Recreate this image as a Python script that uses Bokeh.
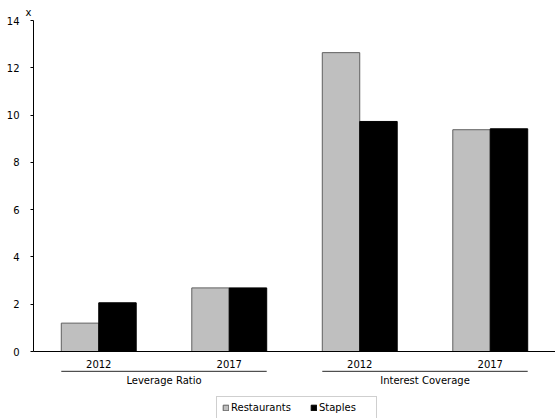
from bokeh.plotting import figure
from bokeh.layouts import column
from bokeh.models import (FactorRange, Range1d, ColumnDataSource, Legend, LegendItem,
                          FixedTicker)
from bokeh.core.properties import value
from bokeh.transform import dodge
from bokeh.embed import file_html
from bokeh.resources import INLINE

group_names = ["Leverage Ratio", "Interest Coverage"]
groups = ["Leverage Ratio", "Leverage Ratio", "Interest Coverage", "Interest Coverage"]
years = ["2012", "2017", "2012", "2017"]
restaurants = [1.20, 2.69, 12.64, 9.38]
staples = [2.06, 2.69, 9.73, 9.42]
series_names = ["Restaurants", "Staples"]
y_ticks = [0, 2, 4, 6, 8, 10, 12, 14]

FONT = "DejaVu Sans"
FS = "10px"
factors = list(zip(groups, years))
xr = FactorRange(*factors, factor_padding=0, group_padding=0, range_padding=0)
src = ColumnDataSource(dict(x=factors, r=restaurants, s=staples))

# ---------------- main chart ----------------
p = figure(width=555, height=370, output_backend="svg", toolbar_location=None,
           x_range=xr, y_range=Range1d(0, 14),
           min_border_left=33, min_border_right=0, min_border_top=20, min_border_bottom=19)
p.outline_line_color = None
p.xgrid.grid_line_color = None
p.ygrid.grid_line_color = None
p.title.text = "x"
p.title.align = "left"
p.title.offset = -8
p.title.standoff = 6
p.title.text_font = FONT
p.title.text_font_size = FS
p.title.text_font_style = "normal"
p.title.text_color = "black"

bw = 0.287
r_style = dict(fill_color="#BFBFBF", line_color="#5F5F5F", line_width=1)
s_style = dict(fill_color="#000000", line_color="#000000", line_width=1)
p.vbar(x=dodge("x", -bw / 2, range=xr), top="r", width=bw, source=src, **r_style)
p.vbar(x=dodge("x", bw / 2, range=xr), top="s", width=bw, source=src, **s_style)

p.yaxis.ticker = FixedTicker(ticks=y_ticks)
p.yaxis.axis_line_color = "black"
p.yaxis.major_tick_out = 3
p.yaxis.major_tick_in = 0
p.yaxis.minor_tick_line_color = None
p.yaxis.major_label_standoff = 11
p.yaxis.major_label_text_font = FONT
p.yaxis.major_label_text_font_size = FS
p.yaxis.major_label_text_color = "black"

p.xaxis.axis_line_color = "black"
p.xaxis.major_tick_line_color = None
p.xaxis.major_tick_out = 0
p.xaxis.major_tick_in = 0
p.xaxis.major_label_text_font = FONT
p.xaxis.major_label_text_font_size = FS
p.xaxis.major_label_text_color = "black"
p.xaxis.major_label_standoff = 8
p.xaxis.group_text_font_size = "0px"
p.xaxis.group_text_alpha = 0
p.xaxis.separator_line_alpha = 0

# ---------------- group labels, underlines and legend ----------------
b = figure(width=555, height=48, output_backend="svg", toolbar_location=None,
           x_range=xr, y_range=Range1d(0, 48),
           min_border_left=33, min_border_right=0, min_border_top=0, min_border_bottom=0)
b.outline_line_color = None
b.xgrid.grid_line_color = None
b.ygrid.grid_line_color = None
b.xaxis.visible = False
b.yaxis.visible = False
b.extra_y_ranges = {"hidden": Range1d(1000, 1001)}

gsrc = ColumnDataSource(dict(first=factors[0::2], last=factors[1::2], name=group_names,
                             yl=[47.3] * 2, yt=[38] * 2))
b.segment(x0=dodge("first", -bw, range=xr), x1=dodge("last", bw, range=xr),
          y0="yl", y1="yl", source=gsrc, line_color="black", line_width=1)
b.text(x="name", y="yt", text="name", source=gsrc,
       text_align="center", text_baseline="middle", text_font_size=FS,
       text_color="black", text_font=value(FONT))

# legend proxies: same data and styles, mapped to an off-screen range
lr1 = b.vbar(x="x", top="r", width=bw, source=src, y_range_name="hidden", **r_style)
lr2 = b.vbar(x="x", top="s", width=bw, source=src, y_range_name="hidden", **s_style)
legend = Legend(items=[LegendItem(label=series_names[0], renderers=[lr1]),
                       LegendItem(label=series_names[1], renderers=[lr2])],
                orientation="horizontal", location=(183, -1),
                border_line_color="#A0A0A0", border_line_width=1,
                background_fill_color="white",
                padding=5, margin=0, spacing=19, glyph_width=7, glyph_height=7,
                label_standoff=2, label_width=52, label_text_font=FONT,
                label_text_font_size=FS, label_text_color="black")
b.add_layout(legend, "center")

layout = column(p, b, spacing=0)
open("out.html", "w").write(file_html(layout, INLINE))
